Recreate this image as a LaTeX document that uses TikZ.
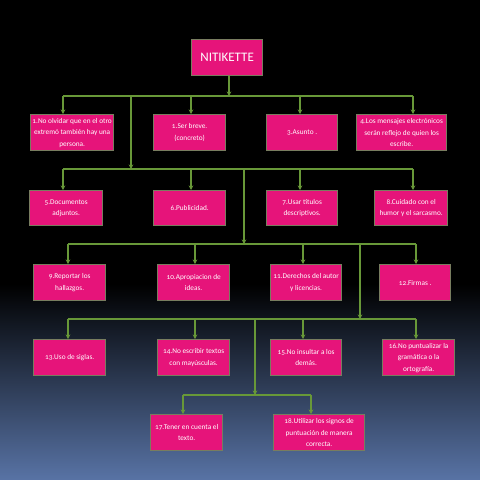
\documentclass[tikz,border=0pt]{standalone}
\usepackage{fontspec}
\setmainfont{Carlito}[Numbers=OldStyle]
\usetikzlibrary{arrows.meta}
\definecolor{boxfill}{RGB}{230,20,122}
\definecolor{boxline}{RGB}{120,125,95}
\definecolor{conn}{RGB}{104,152,56}
\definecolor{bgblue}{RGB}{88,115,165}
\begin{document}
\begin{tikzpicture}[x=1pt,y=-1pt,
  card/.style={draw=boxline,line width=1.3pt,fill=boxfill,text=white,
    align=center,inner sep=1pt,anchor=north west,
    font=\fontsize{7.3}{11.5}\selectfont},
  title/.style={draw=boxline,line width=1.3pt,fill=boxfill,text=white,
    anchor=north west,inner sep=0pt,font=\fontsize{13}{14}\selectfont},
  bus/.style={draw=conn,line width=1.3pt},
  arr/.style={draw=conn,line width=1.3pt,-{Stealth[length=4.5pt,width=4.5pt]}}]
\useasboundingbox (0,0) rectangle (480,480);
\fill[black] (0,0) rectangle (480,285);
\shade[top color=black,bottom color=bgblue] (0,284) rectangle (480,480);
% boxes
\newcommand{\cardbox}[6]{\node[card,minimum width=#4pt,minimum height=#5pt] (#1) at (#2,#3) {#6};}
\node[title,minimum width=71pt,minimum height=36pt] (nit) at (191,39) {NITIKETTE};
\cardbox{c1}{30}{114}{83}{36}{1.No olvidar que en el otro\\extremó también hay una\\persona.}
\cardbox{c2}{153}{114}{72}{36}{1.Ser breve.\\(concreto)}
\cardbox{c3}{266}{114}{71}{36}{3.Asunto .}
\cardbox{c4}{356}{114}{90}{36}{4.Los mensajes electrónicos\\serán reflejo de quien los\\escribe.}
\cardbox{c5}{29}{190}{73}{35}{5.Documentos\\adjuntos.}
\cardbox{c6}{153}{190}{72}{35}{6.Publicidad.}
\cardbox{c7}{266}{190}{71}{35}{7.Usar títulos\\descriptivos.}
\cardbox{c8}{374}{190}{73}{35}{8.Cuidado con el\\humor y el sarcasmo.}
\cardbox{c9}{33}{264}{72}{36}{9.Reportar los\\hallazgos.}
\cardbox{c10}{157}{264}{72}{36}{10.Apropiacion de\\ideas.}
\cardbox{c11}{270}{264}{71}{36}{11.Derechos del autor\\y licencias.}
\cardbox{c12}{379}{264}{71}{36}{12.Firmas .}
\cardbox{c13}{33}{339}{72}{36}{13.Uso de siglas.}
\cardbox{c14}{157}{339}{72}{36}{14.No escribir textos\\con mayúsculas.}
\cardbox{c15}{270}{339}{71}{36}{15.No insultar a los\\demás.}
\cardbox{c16}{382}{339}{72}{36}{16.No puntualizar la\\gramática o la\\ortografía.}
\cardbox{c17}{150}{414}{72}{36}{17.Tener en cuenta el\\texto.}
\cardbox{c18}{273}{414}{91}{36}{18.Utilizar los signos de\\puntuación de manera\\correcta.}
% bus coordinates
\coordinate (a0) at (229,96);
\coordinate (a1) at (63,96); \coordinate (a2) at (191,96);
\coordinate (a3) at (300,96); \coordinate (a4) at (413,96);
\coordinate (a5) at (131,96);
\coordinate (b0) at (131,169);
\coordinate (b1) at (63,169); \coordinate (b2) at (191,169);
\coordinate (b3) at (300,169); \coordinate (b4) at (413,169);
\coordinate (b5) at (244,169);
\coordinate (d0) at (244,244);
\coordinate (d1) at (68,244); \coordinate (d2) at (195,244);
\coordinate (d3) at (303,244); \coordinate (d4) at (416,244);
\coordinate (d5) at (360,244);
\coordinate (e0) at (360,319);
\coordinate (e1) at (68,319); \coordinate (e2) at (195,319);
\coordinate (e3) at (303,319); \coordinate (e4) at (416,319);
\coordinate (e5) at (255,319);
\coordinate (f0) at (255,395);
\coordinate (f1) at (183,395); \coordinate (f2) at (311,395);
% level 1
\draw[bus] (a1) -- (a4);
\draw[arr] (nit.south -| a0) -- (a0);
\foreach \i in {1,2,3,4} \draw[arr] (a\i) -- (a\i |- c\i.north);
% level 2
\draw[arr] (a5) -- (b0);
\draw[bus] (b1) -- (b4);
\foreach \i/\c in {1/c5,2/c6,3/c7,4/c8} \draw[arr] (b\i) -- (b\i |- \c.north);
% level 3
\draw[arr] (b5) -- (d0);
\draw[bus] (d1) -- (d4);
\foreach \i/\c in {1/c9,2/c10,3/c11,4/c12} \draw[arr] (d\i) -- (d\i |- \c.north);
% level 4
\draw[arr] (d5) -- (e0);
\draw[bus] (e1) -- (e4);
\foreach \i/\c in {1/c13,2/c14,3/c15,4/c16} \draw[arr] (e\i) -- (e\i |- \c.north);
% level 5
\draw[arr] (e5) -- (f0);
\draw[bus] (f1) -- (f2);
\draw[arr] (f1) -- (f1 |- c17.north);
\draw[arr] (f2) -- (f2 |- c18.north);
\end{tikzpicture}
\end{document}
